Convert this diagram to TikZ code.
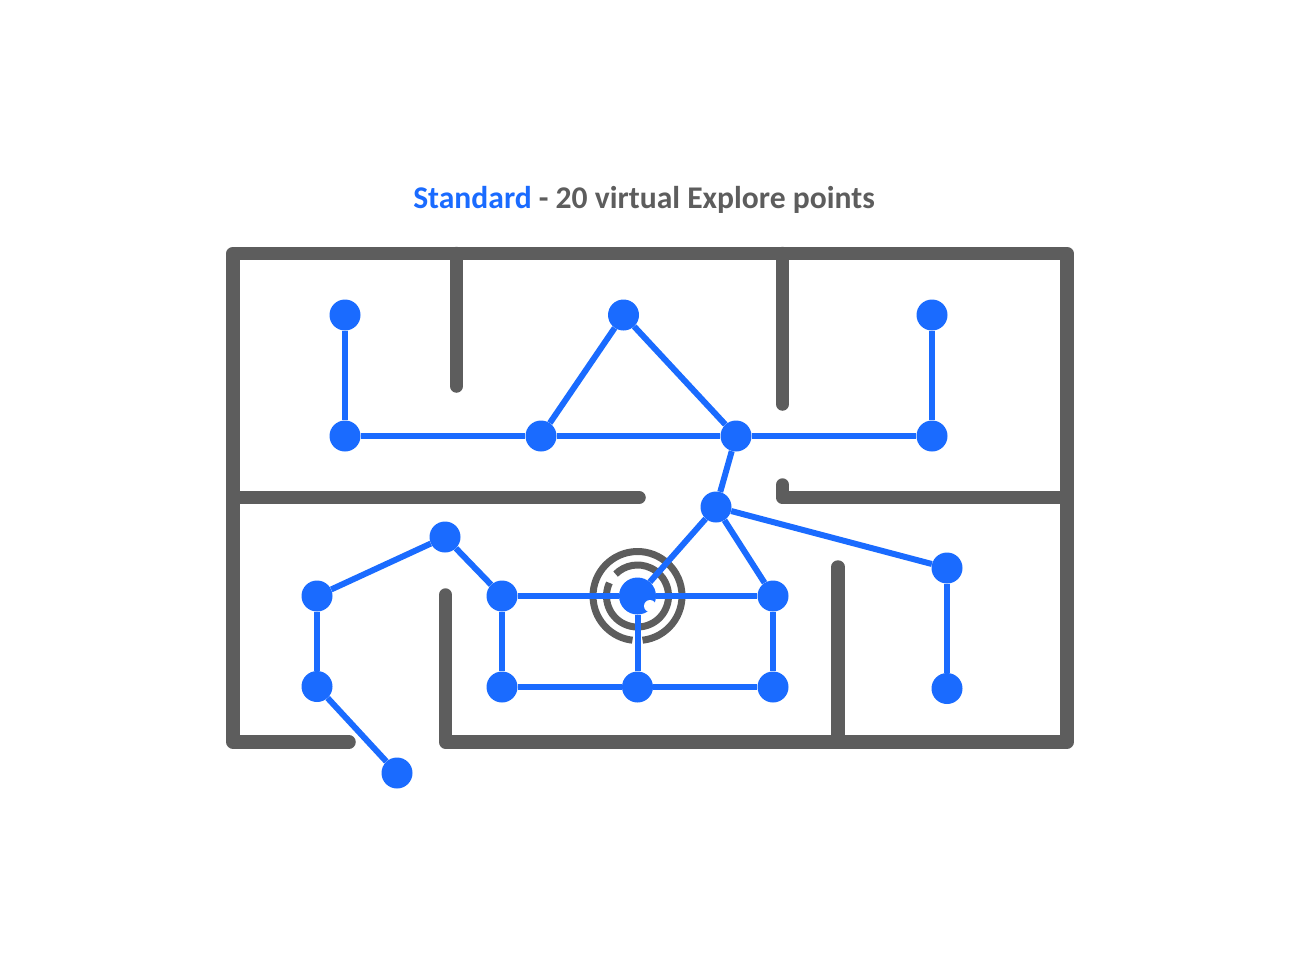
\documentclass[tikz,border=0pt]{standalone}
\usepackage{fontspec}
\setmainfont{Carlito}
\usepackage{tikz}
\definecolor{wallgray}{HTML}{5D5D5D}
\definecolor{pointblue}{HTML}{1A6BFF}
\tikzstyle{wall} = [draw=wallgray, line width=13.5pt, line cap=round, line join=round]
\tikzstyle{ring} = [draw=wallgray, line width=7pt]
\tikzstyle{line} = [draw=pointblue, line width=6pt]
\tikzstyle{point} = [circle, fill=pointblue, inner sep=0pt, minimum size=31pt]

\begin{document}
\begin{tikzpicture}[x=1pt, y=-1pt]
	\useasboundingbox (0,0) rectangle (1300,974);
	% Title
	\node (title) at (644,200) {\fontsize{31.6}{38}\selectfont\bfseries\textcolor{pointblue}{Standard} \textcolor{wallgray}{- 20 virtual Explore points}};
	% Draw walls
	\path [wall] (349,742) -- (233,742) -- (233,253.5) -- (1067,253.5) -- (1067,742) -- (445.5,742) -- (445.5,595);
	\path [wall] (456.5,253.5) -- (456.5,386);
	\path [wall] (782.5,253.5) -- (782.5,404);
	\path [wall] (233,497.5) -- (639,497.5);
	\path [wall] (1067,497.5) -- (782.5,497.5) -- (782.5,485);
	\path [wall] (838,742) -- (838,567);
	% Draw target
	\coordinate (target) at (637.5,596);
	\path [ring] ([shift={(276.5:44.5pt)}]target) arc [start angle=276.5, end angle=623.5, radius=44.5pt];
	\path [ring] ([shift={(155:31pt)}]target) arc [start angle=155, end angle=495, radius=31pt];
	% Place nodes
	\node [point] (pa) at (345,315) {};
	\node [point] (pb) at (345,436) {};
	\node [point] (pc) at (541,436) {};
	\node [point] (pd) at (623.5,315) {};
	\node [point] (pe) at (736,436) {};
	\node [point] (pf) at (932,436) {};
	\node [point] (pg) at (932,315) {};
	\node [point] (ph) at (716,507) {};
	\node [point] (pi) at (947,568) {};
	\node [point] (pj) at (947,688.5) {};
	\node [point] (pk) at (773,596) {};
	\node [point, minimum size=37pt] (pl) at (target) {};
	\node [point] (pm) at (502,596) {};
	\node [point] (pn) at (445,537) {};
	\node [point] (po) at (317,596) {};
	\node [point] (pp) at (317,686.5) {};
	\node [point] (pq) at (397,773) {};
	\node [point] (pr) at (502,687) {};
	\node [point] (ps) at (637.5,687) {};
	\node [point] (pt) at (773,687) {};
	% Draw edges
	\path [line] (pa) -- (pb);
	\path [line] (pb) -- (pc);
	\path [line] (pc) -- (pd);
	\path [line] (pd) -- (pe);
	\path [line] (pc) -- (pe);
	\path [line] (pe) -- (pf);
	\path [line] (pf) -- (pg);
	\path [line] (pe) -- (ph);
	\path [line] (ph) -- (pi);
	\path [line] (pi) -- (pj);
	\path [line] (ph) -- (pk);
	\path [line] (ph) -- (pl);
	\path [line] (pm) -- (pl);
	\path [line] (pl) -- (pk);
	\path [line] (pm) -- (pn);
	\path [line] (pn) -- (po);
	\path [line] (po) -- (pp);
	\path [line] (pp) -- (pq);
	\path [line] (pm) -- (pr);
	\path [line] (pr) -- (ps);
	\path [line] (ps) -- (pt);
	\path [line] (pt) -- (pk);
	\path [line] (pl) -- (ps);
	% Notch in target
	\fill [white] (650,606) circle [radius=6pt];
\end{tikzpicture}
\end{document}
